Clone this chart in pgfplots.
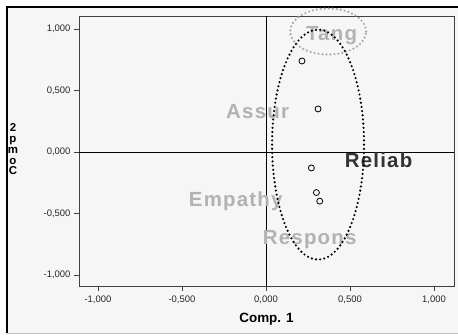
\documentclass[border=0pt]{standalone}
\usepackage{pgfplots}
\pgfplotsset{compat=1.18}
\usepackage{fontspec}
\setmainfont{Liberation Sans}
\definecolor{bgc}{HTML}{F6F6F6}
\definecolor{lblgray}{HTML}{B2B2B2}
\definecolor{ellgray}{HTML}{A8A8A8}
\definecolor{reliab}{HTML}{333333}
\newcommand{\biglbl}{\bfseries\fontsize{20.5}{21}\selectfont\addfontfeatures{LetterSpace=6}}
\begin{document}
\begin{tikzpicture}
\useasboundingbox (-79bp,-50bp) rectangle (379bp,286bp);
\fill[white] (-79bp,-50bp) rectangle (379bp,286bp);
\fill[bgc] (-72bp,-47bp) rectangle (381bp,279bp);
\draw[black,line width=1.2bp] (-72bp,-47bp) -- (-72bp,279bp) -- (381bp,279bp);
\draw[lightgray,line width=0.8bp] (-72bp,-47bp) -- (381bp,-47bp);
\begin{axis}[
  at={(0,0)}, anchor=south west,
  scale only axis, width=375bp, height=270bp,
  xmin=-1.113, xmax=1.119, ymin=-1.09, ymax=1.106,
  axis background/.style={fill=bgc},
  axis line style={draw=black!75, line width=0.8bp},
  xtick={-1,-0.5,0,0.5,1}, ytick={-1,-0.5,0,0.5,1},
  xticklabels={{-1,000},{-0,500},{0,000},{0,500},{1,000}},
  yticklabels={{-1,000},{-0,500},{0,000},{0,500},{1,000}},
  tick align=outside, major tick length=5bp,
  tick style={black!75, line width=0.7bp},
  xtick pos=bottom, ytick pos=left,
  tick label style={font=\fontsize{9.5}{10}\selectfont, black!85},
  xticklabel style={yshift=-1bp},
  yticklabel style={xshift=0bp},
  xlabel={Comp. 1},
  xlabel style={font=\bfseries\fontsize{13.5}{14}\selectfont, at={(rel axis cs:0.427,0)}, anchor=west, yshift=-33bp, inner sep=0pt},
  ylabel={2\\p\\m\\o\\C},
  ylabel style={font=\bfseries\fontsize{11.5}{11}\selectfont, rotate=-90, align=center, at={(rel axis cs:0,0.507)}, anchor=center, xshift=-66bp},
  clip=false,
]
\draw[black, line width=0.8bp] (axis cs:0,-1.09) -- (axis cs:0,1.106);
\draw[black, line width=0.8bp] (axis cs:-1.113,0) -- (axis cs:1.119,0);
\node[lblgray, font=\biglbl] at (axis cs:0.39,0.95) {Tang};
\node[lblgray, font=\biglbl] at (axis cs:-0.05,0.33) {Assur};
\node[lblgray, font=\biglbl] at (axis cs:-0.18,-0.40) {Empathy};
\node[lblgray, font=\biglbl] at (axis cs:0.26,-0.71) {Respons};
\node[reliab, font=\biglbl] at (axis cs:0.67,-0.065) {Reliab};
\draw[ellgray, line width=2.4bp, line cap=round, dash pattern=on 0pt off 4bp] (axis cs:0.37,0.98) ellipse [x radius=38bp, y radius=23bp];
\draw[black, line width=2.4bp, line cap=round, dash pattern=on 0pt off 4.2bp] (axis cs:0.31,0.06) ellipse [x radius=46bp, y radius=115bp];
\addplot[only marks, mark=o, mark size=3bp, black, mark options={line width=0.8bp}] coordinates {
(0.214,0.74) (0.31,0.35) (0.27,-0.13) (0.30,-0.33) (0.32,-0.40)
};
\end{axis}
\end{tikzpicture}
\end{document}
